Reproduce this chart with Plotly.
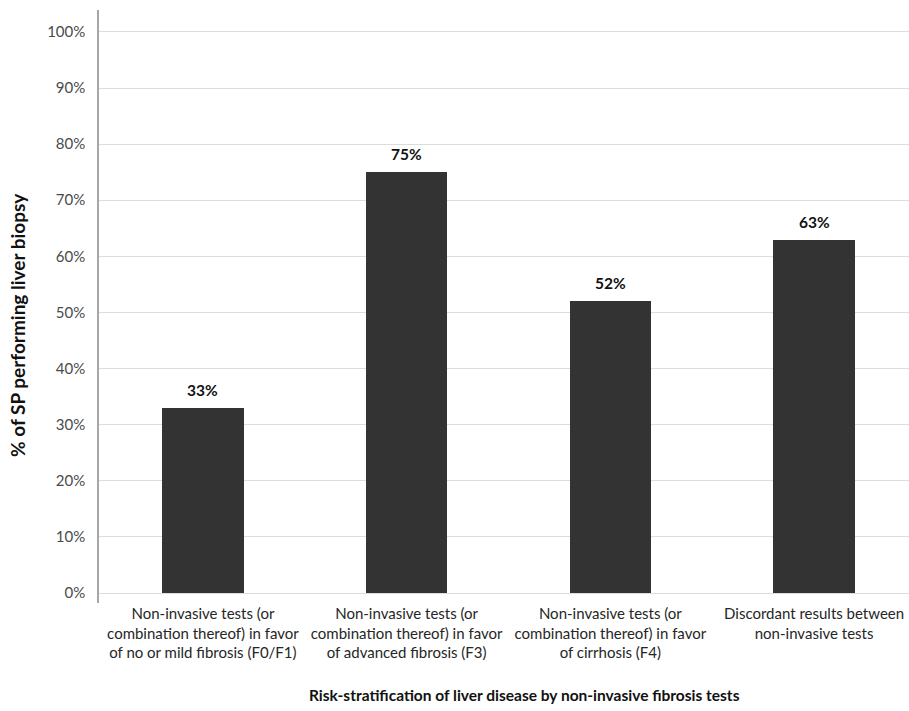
import plotly.graph_objects as go

# Survey results: share of SP performing liver biopsy per risk category
categories = [
    "Non-invasive tests (or<br>combination thereof) in favor<br>of no or mild fibrosis (F0/F1)",
    "Non-invasive tests (or<br>combination thereof) in favor<br>of advanced fibrosis (F3)",
    "Non-invasive tests (or<br>combination thereof) in favor<br>of cirrhosis (F4)",
    "Discordant results between<br>non-invasive tests",
]
percent_biopsy = [33, 75, 52, 63]
y_ticks = list(range(0, 101, 10))
y_tick_labels = [f"{v}%" for v in y_ticks]

FONT = "Lato, 'Open Sans', sans-serif"
positions = list(range(len(categories)))

fig = go.Figure()
fig.add_trace(go.Bar(
    x=positions,
    y=percent_biopsy,
    width=0.40,
    marker=dict(color="#333333", line=dict(width=0)),
    hoverinfo="skip",
))

# value labels above each bar
for xpos, val in zip(positions, percent_biopsy):
    fig.add_annotation(
        x=xpos, y=val, text=f"<b>{val}%</b>", showarrow=False,
        yanchor="bottom", yshift=7,
        font=dict(family=FONT, size=15.5, color="#111111"),
    )

# horizontal axis title
fig.add_annotation(
    xref="paper", yref="paper", x=0.525, y=-0.155,
    text="<b>Risk-stratification of liver disease by non-invasive fibrosis tests</b>",
    showarrow=False, xanchor="center", yanchor="middle",
    font=dict(family=FONT, size=15.5, color="#111111"),
)

# vertical axis title
fig.add_annotation(
    xref="paper", yref="paper", x=-0.1, y=0.469,
    text="<b>% of SP performing liver biopsy</b>",
    textangle=-90, showarrow=False, xanchor="center", yanchor="middle",
    font=dict(family=FONT, size=19, color="#111111"),
)

fig.update_layout(
    width=909, height=711,
    margin=dict(l=99, r=0, t=10, b=108),
    plot_bgcolor="white", paper_bgcolor="white",
    showlegend=False,
    bargap=0,
    xaxis=dict(
        range=[-0.51, 3.466],
        tickvals=positions, ticktext=categories,
        showgrid=False, zeroline=False, showline=False,
        ticks="", tickfont=dict(family=FONT, size=15, color="#262626"),
    ),
    yaxis=dict(
        range=[-1.78, 103.9],
        tickvals=y_ticks, ticktext=y_tick_labels,
        showgrid=True, gridcolor="#dcdcdc", gridwidth=1,
        zeroline=False,
        showline=True, linecolor="#a6a6a6", linewidth=1.5,
        ticks="", ticklen=0, ticklabelstandoff=9,
        tickfont=dict(family=FONT, size=15, color="#4a4a4a"),
    ),
)

fig.write_html("out.html")
